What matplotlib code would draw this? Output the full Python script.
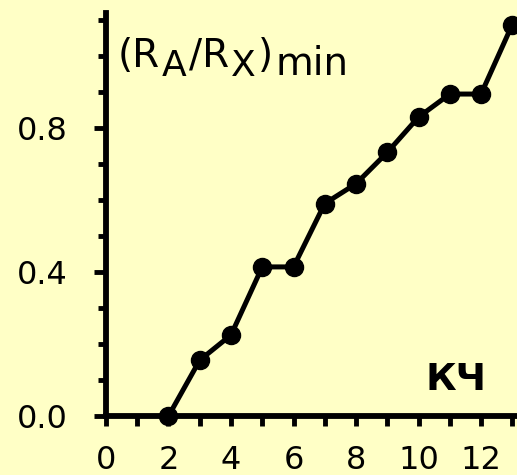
import matplotlib
import matplotlib.pyplot as plt
from matplotlib.ticker import MultipleLocator, FormatStrFormatter

matplotlib.use("Agg")

# coordination number vs minimum radius ratio
cn = [2, 3, 4, 5, 6, 7, 8, 9, 10, 11, 12, 13]
ratio = [0.0, 0.155, 0.225, 0.414, 0.414, 0.59, 0.645, 0.732, 0.83, 0.894, 0.894, 1.087]

BG = "#ffffc6"

fig = plt.figure(figsize=(5.17, 4.75), dpi=100, facecolor=BG)
ax = fig.add_axes((0.205, 0.1242, 0.795, 0.8484), facecolor=BG)

ax.plot(cn, ratio, color="black", lw=3.6, marker="o", ms=13,
        clip_on=False, zorder=5)

ax.set_xlim(0, 13.15)
ax.set_ylim(0, 1.119)

for side in ("top", "right"):
    ax.spines[side].set_visible(False)
for side in ("left", "bottom"):
    ax.spines[side].set_linewidth(4.2)

ax.xaxis.set_major_locator(MultipleLocator(2))
ax.xaxis.set_minor_locator(MultipleLocator(1))
ax.yaxis.set_major_locator(MultipleLocator(0.4))
ax.yaxis.set_minor_locator(MultipleLocator(0.1))
ax.yaxis.set_major_formatter(FormatStrFormatter("%.1f"))

ax.tick_params(axis="x", which="both", direction="out", length=7.5, width=3.5,
               labelsize=23, pad=13.5)
ax.tick_params(axis="y", which="major", direction="out", length=8.6, width=3.5,
               labelsize=23, pad=19)
ax.tick_params(axis="y", which="minor", direction="out", length=5.5, width=3.5)

# y label built from pieces so the subscripts keep near full size
F, FS, DY = 28, 26, -5.8
prev = ax.text(0.38, 0.97, "(R", fontsize=F, va="baseline")
prev_dy = 0
for s, size, dy in [("A", FS, DY), ("/R", F, 0), ("X", FS, DY), (")", F, 0), ("min", F, DY)]:
    prev = ax.annotate(s, xy=(1, 0), xycoords=prev, xytext=(1.5, dy - prev_dy),
                       textcoords="offset points", fontsize=size, va="bottom")
    prev_dy = dy

ax.text(11.2, 0.10, "КЧ", fontsize=27, fontweight="bold", ha="center", va="center")

fig.savefig("out.png", dpi=100, facecolor=BG)
